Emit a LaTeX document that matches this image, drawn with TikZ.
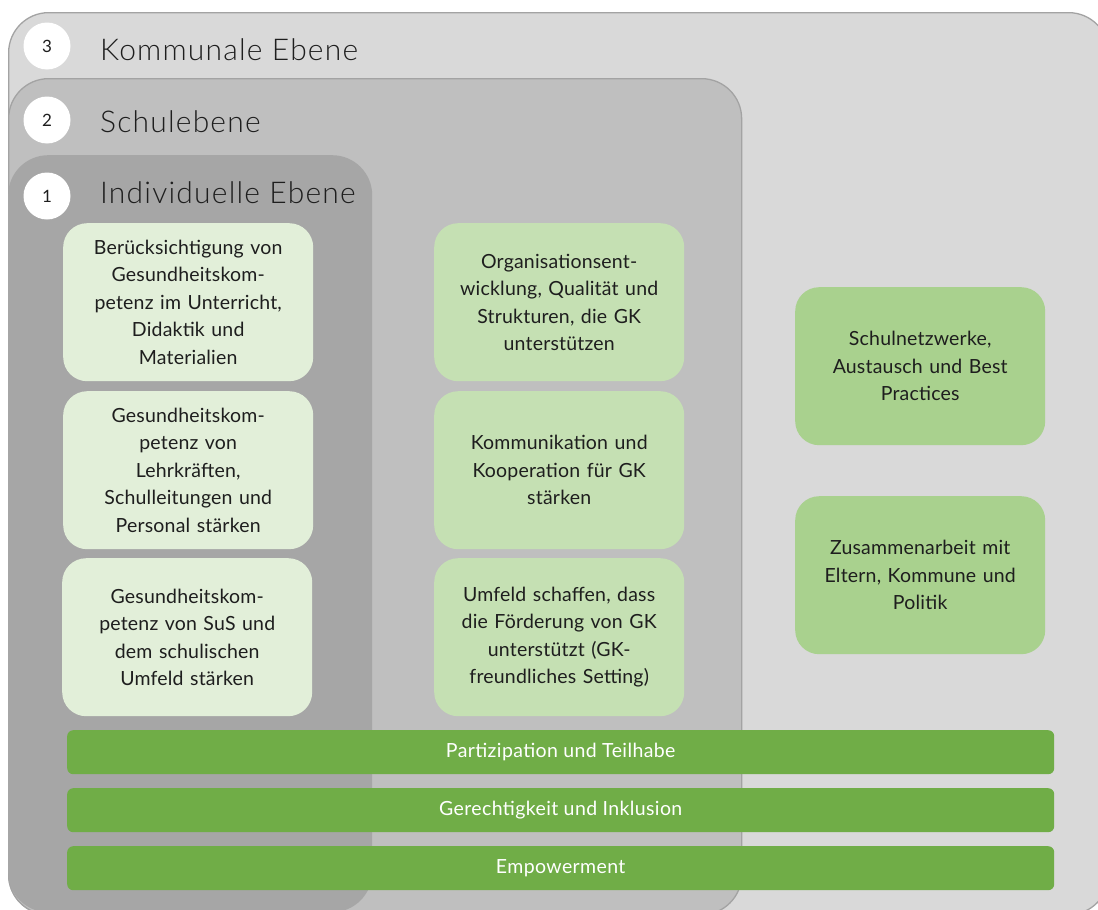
\documentclass[tikz,border=0pt]{standalone}
\usepackage{fontspec}
\setmainfont{Lato Light}
\newfontfamily\regularfont{Lato}
\definecolor{lvlthree}{HTML}{D9D9D9}
\definecolor{lvltwo}{HTML}{BFBFBF}
\definecolor{lvlone}{HTML}{A6A6A6}
\definecolor{edgegray}{HTML}{A3A3A3}
\definecolor{cardpale}{HTML}{E2EFD9}
\definecolor{cardmid}{HTML}{C5E0B3}
\definecolor{carddeep}{HTML}{A9D18E}
\definecolor{bargreen}{HTML}{70AD47}
\definecolor{inkgray}{HTML}{1E1E1E}
\begin{document}
\begin{tikzpicture}[x=1pt,y=-1pt,
  lvlbox/.style={rounded corners=40pt, anchor=north west, inner sep=0pt},
  badge/.style={circle, fill=white, minimum size=47pt, inner sep=0pt,
    font=\regularfont\fontsize{17}{17}\selectfont, text=inkgray},
  lvltitle/.style={anchor=base west, inner sep=0pt,
    font=\fontsize{30}{30}\selectfont\addfontfeatures{LetterSpace=4},
    text=inkgray},
  card/.style={rounded corners=24pt, anchor=north west, inner sep=0pt,
    minimum width=250pt, minimum height=158pt, text width=244pt,
    align=center,
    font=\regularfont\fontsize{19.5}{27.5}\selectfont\addfontfeatures{LetterSpace=1},
    text=inkgray},
  bar/.style={rounded corners=6pt, fill=bargreen, anchor=north west,
    inner sep=0pt, minimum width=987pt, minimum height=44pt, text=white,
    font=\regularfont\fontsize{19.5}{20}\selectfont\addfontfeatures{LetterSpace=2}}]
\useasboundingbox (0,0) rectangle (1098,910);
\fill[white] (0,0) rectangle (1098,910);
\begin{scope}
\clip (0,0) rectangle (1098,910);
% nested levels
\node[lvlbox, fill=lvlthree, draw=edgegray, line width=1.3pt,
  minimum width=1100pt, minimum height=902pt] (lvl3) at (8,12) {};
\node[lvlbox, fill=lvltwo, draw=edgegray, line width=1.3pt,
  minimum width=733pt, minimum height=836pt] (lvl2) at (8,78) {};
\node[lvlbox, fill=lvlone,
  minimum width=364pt, minimum height=757pt] (lvl1) at (8,155) {};
\end{scope}

% level headings
\node[badge] (b3) at (47,46) {3};
\node[badge] (b2) at (47,120) {2};
\node[badge] (b1) at (47,196) {1};
\node[lvltitle] (t3) at (100,60) {Kommunale Ebene};
\node[lvltitle] (t2) at (100,132) {Schulebene};
\node[lvltitle] (t1) at (100,203) {Individuelle Ebene};

% individual level
\node[card, fill=cardpale] (i1) at (63,223)
  {Berücksichtigung von\\Gesundheitskom-\\petenz im Unterricht,\\Didaktik und\\Materialien};
\node[card, fill=cardpale] (i2) at (63,391)
  {Gesundheitskom-\\petenz von\\Lehrkräften,\\Schulleitungen und\\Personal stärken};
\node[card, fill=cardpale] (i3) at (62,558)
  {Gesundheitskom-\\petenz von SuS und\\dem schulischen\\Umfeld stärken};

% school level
\node[card, fill=cardmid] (s1) at (434,223)
  {Organisationsent-\\wicklung, Qualität und\\Strukturen, die GK\\unterstützen};
\node[card, fill=cardmid] (s2) at (434,391)
  {Kommunikation und\\Kooperation für GK\\stärken};
\node[card, fill=cardmid] (s3) at (434,558)
  {Umfeld schaffen, dass\\die Förderung von GK\\unterstützt (GK-\\freundliches Setting)};

% municipal level
\node[card, fill=carddeep] (k1) at (795,287)
  {Schulnetzwerke,\\Austausch und Best\\Practices};
\node[card, fill=carddeep] (k2) at (795,496)
  {Zusammenarbeit mit\\Eltern, Kommune und\\Politik};

% cross-cutting principles
\node[bar] (p1) at (67,730) {Partizipation und Teilhabe};
\node[bar] (p2) at (67,788) {Gerechtigkeit und Inklusion};
\node[bar] (p3) at (67,846) {Empowerment};
\end{tikzpicture}
\end{document}
